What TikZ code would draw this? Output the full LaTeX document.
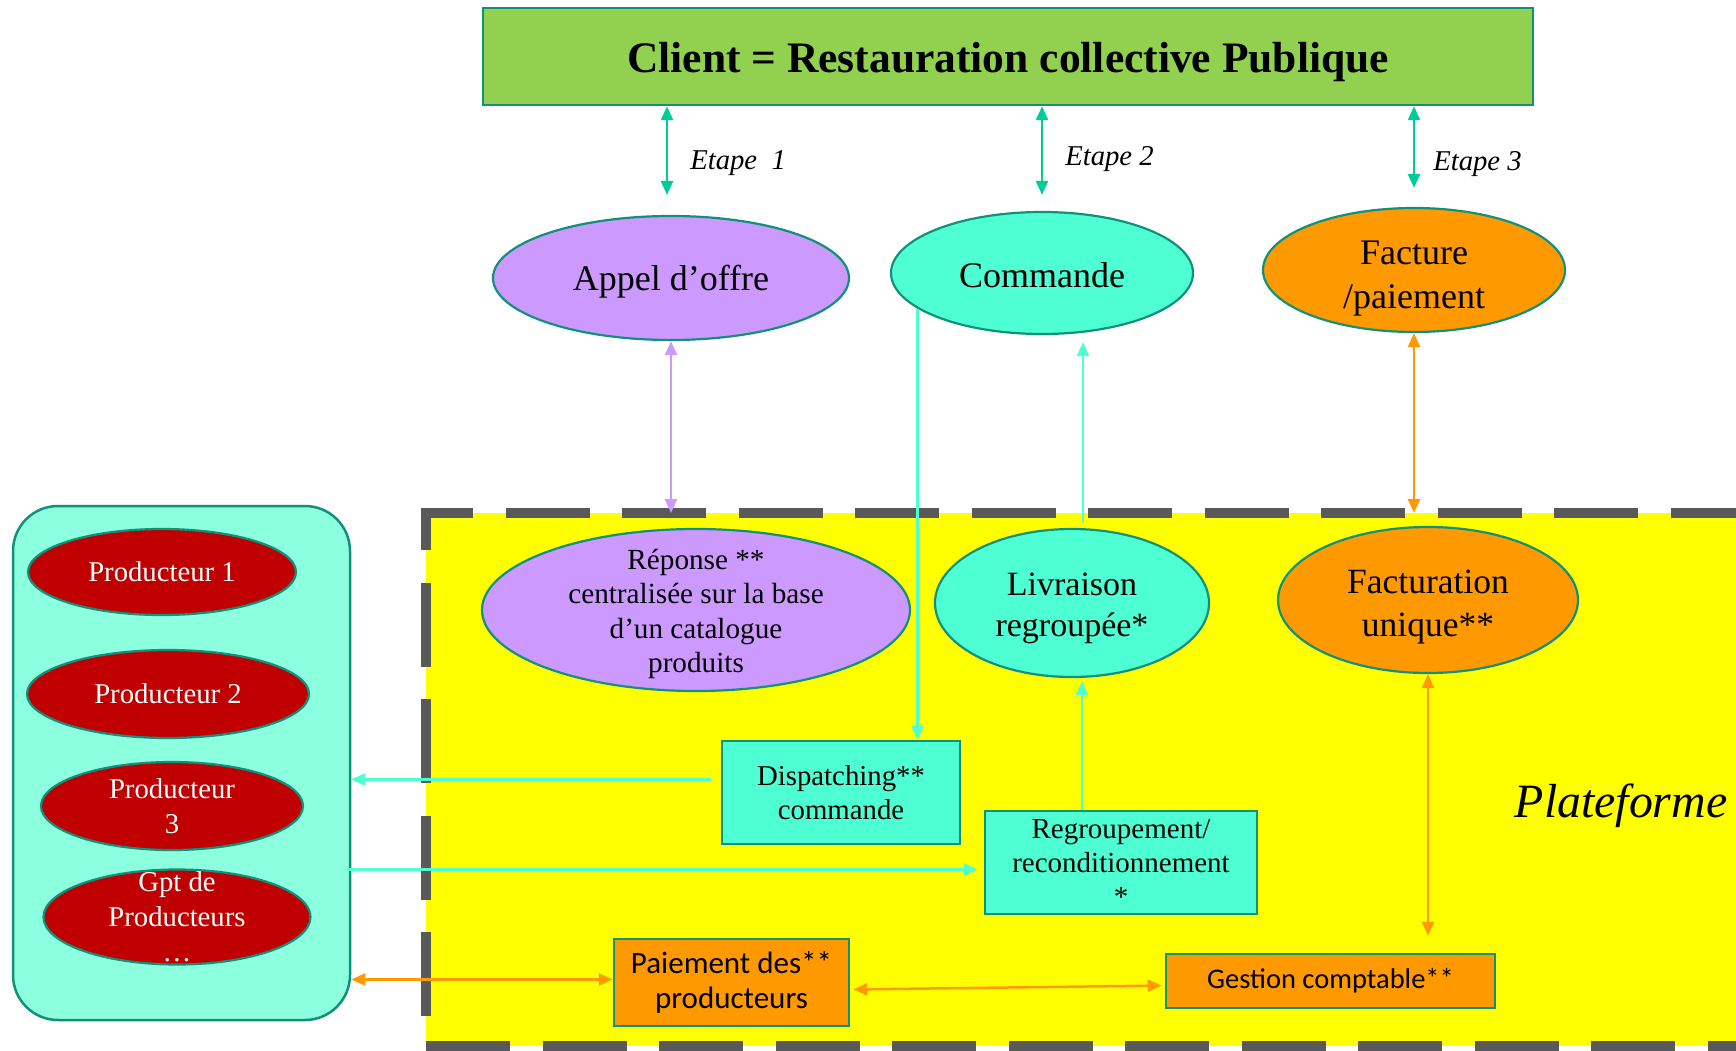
\documentclass[tikz,border=0pt]{standalone}
\usepackage{fontspec}
\setmainfont{Liberation Serif}
\newfontfamily\calibri{Carlito}
\usetikzlibrary{shapes.geometric, arrows.meta, calc}
\definecolor{vertclient}{HTML}{92D050}
\definecolor{bordure}{HTML}{12917A}
\definecolor{etapevert}{HTML}{00CC99}
\definecolor{mauve}{HTML}{CC99FF}
\definecolor{turquoise}{HTML}{4DFFD2}
\definecolor{orangeplat}{HTML}{FF9900}
\definecolor{aqua}{HTML}{8CFFDF}
\definecolor{rouge}{HTML}{C00000}
\definecolor{jaune}{HTML}{FFFF00}
\definecolor{gristiret}{HTML}{595959}
\tikzset{
  client/.style={rectangle, draw=bordure, fill=vertclient, line width=2.5pt, minimum width=1050pt, minimum height=97pt, text height=41.5pt, text depth=9.5pt, font=\bfseries\fontsize{43.5}{52}\selectfont},
  bulle/.style={ellipse, draw=bordure, line width=2.2pt, align=center, inner xsep=0pt, inner ysep=-80pt},
  boite/.style={rectangle, draw=bordure, line width=2.5pt, align=center, inner sep=2pt},
  producteur/.style={bulle, fill=rouge, text=white, font=\fontsize{28.7}{35}\selectfont},
  etapetext/.style={anchor=west, inner sep=0pt, xshift=22pt, font=\itshape\fontsize{28.7}{34}\selectfont},
  tirets/.style={draw=gristiret, line width=10pt, dash pattern=on 84pt off 32.5pt},
  aller/.style={line width=2.5pt, -{Triangle[length=14pt, width=12pt]}},
  allerretour/.style={line width=2.5pt, {Triangle[length=14pt, width=12pt]}-{Triangle[length=14pt, width=12pt]}}
}
\begin{document}
\begin{tikzpicture}[x=1pt, y=-1pt]
    \useasboundingbox (0,0) rectangle (1736,1051);
    \clip (0,0) rectangle (1736,1051);

    % Plateforme
    \node[rectangle, fill=jaune, anchor=north west, minimum width=1400pt, minimum height=533pt, inner sep=0pt, outer sep=0pt] (plateforme) at (426,513) {};
    \draw[tirets, dash phase=86.5pt] (plateforme.south west) -- (plateforme.north west) -- (plateforme.north east);
    \draw[tirets] (plateforme.south west) -- (plateforme.south east);
    \node[font=\itshape\fontsize{47.8}{56}\selectfont] (plateformetexte) at (1621,806) {Plateforme};

    % Defining nodes
    \node[client] (client) at (1008,56.5) {Client = Restauration collective Publique};
    \node[bulle, fill=mauve, minimum width=356pt, minimum height=124pt, font=\fontsize{36}{44}\selectfont] (appel) at (671,278) {\rule{0pt}{33.5pt}Appel d’offre};
    \node[bulle, fill=turquoise, minimum width=302pt, minimum height=122pt, font=\fontsize{36}{44}\selectfont] (commande) at (1042,273) {\rule{0pt}{29pt}Commande};
    \node[bulle, fill=orangeplat, minimum width=302pt, minimum height=124pt, font=\fontsize{36}{44}\selectfont] (facture) at (1414,270) {\rule{0pt}{40pt}Facture\\/paiement};

    \node[bulle, fill=mauve, minimum width=428pt, minimum height=162pt, font=\fontsize{29.2}{34.3}\selectfont] (reponse) at (696,610) {\rule{0pt}{28pt}Réponse **\\centralisée sur la base\\d’un catalogue\\produits};
    \node[bulle, fill=turquoise, minimum width=274pt, minimum height=148pt, font=\fontsize{34}{41}\selectfont] (livraison) at (1072,603) {\rule{0pt}{33pt}Livraison\\regroupée*};
    \node[bulle, fill=orangeplat, minimum width=300pt, minimum height=146pt, font=\fontsize{35.5}{43}\selectfont] (facturation) at (1428,600) {\rule{0pt}{38.5pt}Facturation\\unique**};

    \node[boite, fill=turquoise, minimum width=238pt, minimum height=103pt, font=\fontsize{28.8}{34}\selectfont] (dispatch) at (841,792.5) {Dispatching**\\commande};
    \node[boite, fill=turquoise, minimum width=272pt, minimum height=103pt, font=\fontsize{29}{34}\selectfont] (regroup) at (1121,862.5) {Regroupement/\\reconditionnement\\*};
    \node[boite, fill=orangeplat, minimum width=235pt, minimum height=87pt, font=\calibri\fontsize{31}{35.5}\selectfont] (paiement) at (731.5,982.5) {Paiement des**\\producteurs};
    \node[boite, fill=orangeplat, minimum width=329pt, minimum height=54pt, font=\calibri\fontsize{28.5}{32}\selectfont] (gestion) at (1330.5,981) {Gestion comptable**};

    % Producteurs
    \node[rectangle, rounded corners=45pt, draw=bordure, fill=aqua, line width=2.5pt, minimum width=337pt, minimum height=514pt] (producteurs) at (181.5,763) {};
    \node[producteur, minimum width=268pt, minimum height=86pt] (prod1) at (162,572) {Producteur 1};
    \node[producteur, minimum width=282pt, minimum height=88pt] (prod2) at (168,694) {Producteur 2};
    \node[producteur, minimum width=262pt, minimum height=88pt] (prod3) at (172,806) {Producteur\\3};
    \node[producteur, minimum width=267pt, minimum height=95pt] (gpt) at (177,917) {Gpt de\\Producteurs\\…};

    % Drawing arrows
    \draw[allerretour, draw=etapevert] ($(appel.north |- client.south)+(-4,0)$) -- node[etapetext, yshift=-13pt] {Etape\ \ 1} ($(appel.north)+(-4,-20)$);
    \draw[allerretour, draw=etapevert] (commande.north |- client.south) -- node[etapetext, yshift=-8pt] {Etape 2} ($(commande.north)+(0,-16)$);
    \draw[allerretour, draw=etapevert] (facture.north |- client.south) -- node[etapetext, yshift=-17pt, xshift=-4pt] {Etape 3} ($(facture.north)+(0,-19)$);

    \draw[allerretour, draw=mauve] (appel.south) -- (appel.south |- plateforme.north);
    \draw[allerretour, draw=orangeplat] (facture.south) -- (facture.south |- plateforme.north);
    \draw[aller, draw=turquoise] (commande.196) -- (commande.196 |- dispatch.north);
    \draw[aller, draw=turquoise] ($(livraison.north)+(11,-6)$) -- ($(livraison.north |- commande.south)+(11,7)$);
    \draw[aller, draw=turquoise] ($(livraison.south |- regroup.north)+(10,0)$) -- ($(livraison.south)+(10,3)$);
    \draw[aller, draw=turquoise] ($(dispatch.west)+(-10,-13)$) -- ($(producteurs.east |- dispatch.west)+(0,-13)$);
    \draw[aller, draw=turquoise, shorten >=6pt] ($(producteurs.east |- regroup.west)+(-4,7)$) -- ($(regroup.west)+(0,7)$);
    \draw[allerretour, draw=orangeplat, shorten >=17pt] (facturation.south) -- (facturation.south |- gestion.north);
    \draw[allerretour, draw=orangeplat] ($(producteurs.east |- paiement.west)+(0,-3)$) -- ($(paiement.west)+(0,-3)$);
    \draw[allerretour, draw=orangeplat, shorten <=3pt, shorten >=3pt] ($(paiement.east)+(0,7)$) -- ($(gestion.west)+(0,4.5)$);
\end{tikzpicture}
\end{document}
